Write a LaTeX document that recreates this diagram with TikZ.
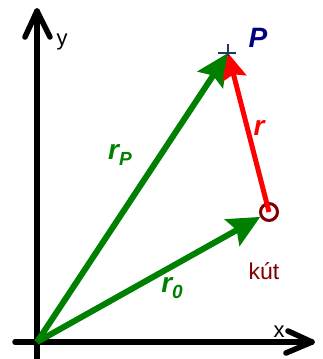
\documentclass[tikz,border=0pt]{standalone}
\usepackage{fontspec}
\setmainfont{Liberation Sans}
\usetikzlibrary{arrows.meta}
\definecolor{vgreen}{RGB}{0,128,0}
\definecolor{vred}{RGB}{255,0,0}
\definecolor{dred}{RGB}{128,0,0}
\definecolor{navyP}{RGB}{0,0,128}
\definecolor{crossblue}{RGB}{31,56,100}
\tikzset{
  axis/.style={line width=5.5pt, line cap=round, line join=round, black},
  gvec/.style={line width=6pt, vgreen, -{Stealth[length=32pt,width=30pt,inset=5pt]}},
  rvec/.style={line width=5pt, vred, -{Stealth[length=26pt,width=24pt,inset=4pt]}},
  lbl/.style={font=\fontsize{28}{30}\selectfont\bfseries\itshape, inner sep=0pt},
  axlbl/.style={font=\fontsize{22}{24}\selectfont, inner sep=0pt},
}
\begin{document}
\begin{tikzpicture}[x=1pt,y=-1pt]
\useasboundingbox (0,0) rectangle (323,359);
% axis labels (under axes)
\node[axlbl] (ylab) at (62,42) {y};
\node[axlbl] (xlab) at (279,332) {x};
% axes
\coordinate (O) at (37,342);
\coordinate (ytip) at (37,11);
\coordinate (xtip) at (312,342);
\draw[axis] (37,359) -- (ytip);
\draw[axis] (25,37) -- (ytip) -- (50,37);
\draw[axis] (15,342) -- (xtip);
\draw[axis] (288,331) -- (xtip) -- (286,353);
% points
\coordinate (P) at (228,53);
\node[circle, draw=dred, line width=3pt, minimum size=17pt, inner sep=0pt] (S) at (269,212) {};
% vectors
\draw[gvec] (O) -- (P);
\draw[rvec] (S.center) -- (P);
\draw[gvec] (O) -- (S);
% cross at P
\draw[crossblue, line width=2.5pt] (218,53) -- (236,53) (228,44) -- (228,56);
% labels
\node[lbl, text=navyP] (Plab) at (258,38) {P};
\node[lbl, text=vred] (rlab) at (259,128) {r};
\node[lbl, text=vgreen] (rPlab) at (120,155) {r\raisebox{-6pt}{\fontsize{19}{20}\selectfont P}};
\node[lbl, text=vgreen] (r0lab) at (172,288) {r\raisebox{-6pt}{\fontsize{19}{20}\selectfont 0}};
\node[font=\fontsize{23}{25}\selectfont, text=dred, inner sep=0pt] (kut) at (264,271) {kút};
\end{tikzpicture}
\end{document}
